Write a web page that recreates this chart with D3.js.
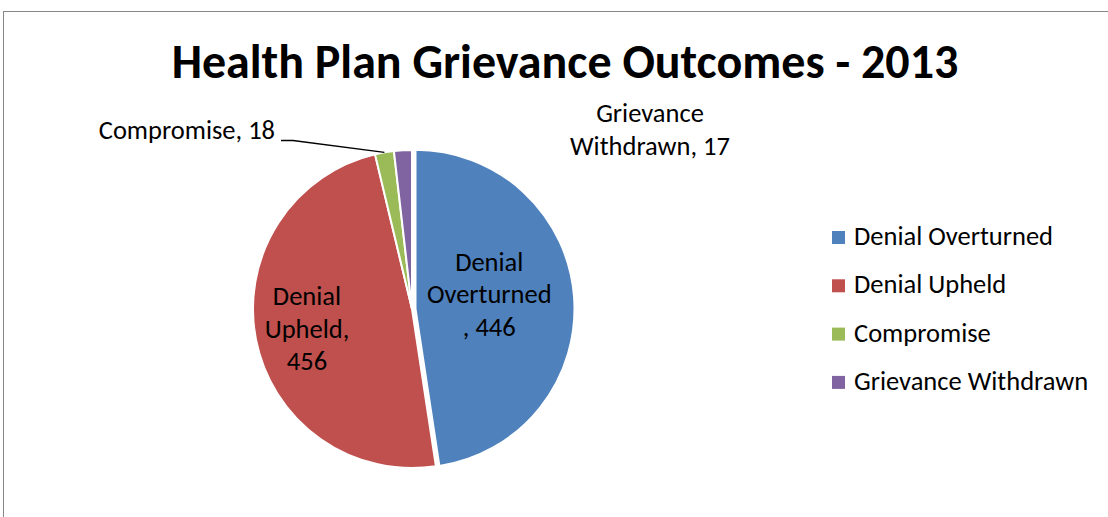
<!DOCTYPE html>
<html>
<head>
<meta charset="utf-8">
<script src="https://cdn.jsdelivr.net/npm/d3@7"></script>
<style>
  html, body { margin: 0; padding: 0; background: #ffffff; }
  svg { display: block; font-family: Carlito, "Open Sans", Lato, sans-serif; }
</style>
</head>
<body>
<svg id="chart" width="1108" height="517"></svg>
<script>
// Grievance outcomes for 2013
const categories = ["Denial Overturned", "Denial Upheld", "Compromise", "Grievance Withdrawn"];
const values = [446, 456, 18, 17];
const colors = ["#4F81BD", "#C0504D", "#9BBB59", "#8064A2"];
const titleText = "Health Plan Grievance Outcomes - 2013";

const svg = d3.select("#chart");
const W = 1108, H = 517;

// outer chart frame (top and left edges visible)
svg.append("rect")
  .attr("x", 3.5).attr("y", 11.5)
  .attr("width", W + 10).attr("height", H + 10)
  .attr("fill", "#ffffff")
  .attr("stroke", "#878787").attr("stroke-width", 1);

svg.append("text")
  .attr("x", 565).attr("y", 78)
  .attr("text-anchor", "middle")
  .attr("font-size", 48).attr("font-weight", "bold")
  .attr("fill", "#000")
  .text(titleText);

const cx = 412, cy = 309, r = 159;
const data = categories.map((c, i) => ({ name: c, value: values[i], color: colors[i] }));

const pie = d3.pie().value(d => d.value).sort(null);
const arcs = pie(data);
const arc = d3.arc().innerRadius(0).outerRadius(r);

const explode = [3.5, 0, 0, 0];

const g = svg.append("g").attr("transform", `translate(${cx},${cy})`);

g.selectAll("path.slice")
  .data(arcs)
  .join("path")
  .attr("class", "slice")
  .attr("transform", (d, i) => {
    const a = (d.startAngle + d.endAngle) / 2;
    return `translate(${explode[i] * Math.sin(a)},${-explode[i] * Math.cos(a)})`;
  })
  .attr("d", arc)
  .attr("fill", d => d.data.color)
  .attr("stroke", "#ffffff")
  .attr("stroke-width", 2)
  .attr("stroke-linejoin", "miter");

const labelFont = 26.5;
const lineH = 32.5;

// inside labels: distance from centre along each slice's bisector, plus a vertical nudge
const insideDist = [74, 107];
const insideNudge = [-8, 0];
const insideLines = [
  [categories[0].split(" ")[0], categories[0].split(" ")[1], ", " + values[0]],
  [categories[1].split(" ")[0], categories[1].split(" ")[1] + ",", String(values[1])]
];
insideLines.forEach((lines, i) => {
  const d = arcs[i];
  const a = (d.startAngle + d.endAngle) / 2;
  const px = (insideDist[i] + explode[i]) * Math.sin(a);
  const py = -(insideDist[i] + explode[i]) * Math.cos(a) + insideNudge[i];
  const t = g.append("text")
    .attr("text-anchor", "middle")
    .attr("font-size", labelFont)
    .attr("fill", "#000");
  lines.forEach((ln, k) => {
    t.append("tspan")
      .attr("x", px)
      .attr("y", py + (k - 1) * lineH + 8)
      .text(ln);
  });
});

// Compromise label with leader line to the slice edge
{
  const d = arcs[2];
  const a = (d.startAngle + d.endAngle) / 2;
  const ex = r * Math.sin(a), ey = -r * Math.cos(a);
  const lx = 275 - cx, ly = 139 - cy;
  g.append("text")
    .attr("x", lx).attr("y", ly)
    .attr("text-anchor", "end")
    .attr("font-size", labelFont)
    .attr("fill", "#000")
    .text(categories[2] + ", " + values[2]);
  g.append("path")
    .attr("d", `M${lx + 6},${ly + 1.5}L${lx + 18},${ly + 1.5}L${ex},${ey}`)
    .attr("fill", "none")
    .attr("stroke", "#000").attr("stroke-width", 1.3);
}

// Grievance Withdrawn label
{
  const t = g.append("text")
    .attr("text-anchor", "middle")
    .attr("font-size", labelFont)
    .attr("fill", "#000");
  const parts = [categories[3].split(" ")[0], categories[3].split(" ")[1] + ", " + values[3]];
  parts.forEach((p, k) => {
    t.append("tspan").attr("x", 650 - cx).attr("y", 122 - cy + k * lineH).text(p);
  });
}

// legend
const legend = svg.append("g").attr("transform", "translate(832,231)");
const rowH = 48.3;
const items = legend.selectAll("g.item")
  .data(data)
  .join("g")
  .attr("class", "item")
  .attr("transform", (d, i) => `translate(0,${i * rowH})`);
items.append("rect")
  .attr("width", 13).attr("height", 13)
  .attr("fill", d => d.color);
items.append("text")
  .attr("x", 22).attr("y", 14)
  .attr("font-size", labelFont)
  .attr("fill", "#000")
  .text(d => d.name);
</script>
</body>
</html>
